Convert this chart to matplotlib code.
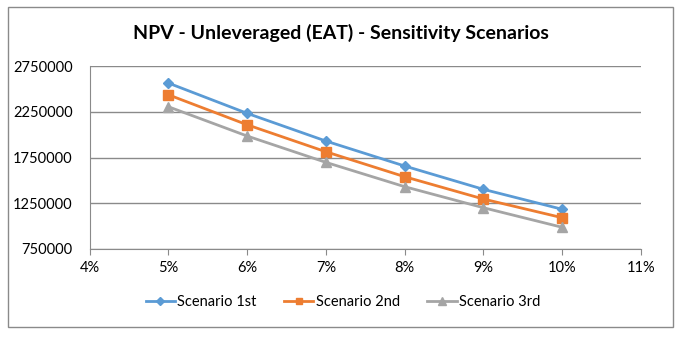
import matplotlib
matplotlib.use("Agg")
import matplotlib.pyplot as plt
from matplotlib.patches import Rectangle
from matplotlib.ticker import FuncFormatter, MultipleLocator, FixedLocator

plt.rcParams['font.family'] = ['Lato', 'DejaVu Sans']

rates = [0.05, 0.06, 0.07, 0.08, 0.09, 0.10]
scenario_1st = [2564000, 2233000, 1930000, 1657000, 1402000, 1184000]
scenario_2nd = [2436000, 2108000, 1813000, 1540000, 1296000, 1092000]
scenario_3rd = [2305000, 1985000, 1697000, 1431000, 1201000, 987000]
y_ticks = [750000, 1250000, 1750000, 2250000, 2750000]
series_names = ["Scenario 1st", "Scenario 2nd", "Scenario 3rd"]
title = "NPV - Unleveraged (EAT) - Sensitivity Scenarios"

colors = ["#5B9BD5", "#ED7D31", "#A5A5A5"]
markers = ["D", "s", "^"]
msizes = [5.5, 6.5, 7.5]
grid_col = "#8a8a8a"
text_col = "#000000"

fig = plt.figure(figsize=(6.82, 3.41), dpi=100)
fig.patch.set_facecolor("white")
# outer chart border
fig.patches.append(Rectangle((8 / 682, 1 - 327 / 341), (673 - 8) / 682, (327 - 7) / 341,
                             transform=fig.transFigure, fill=False,
                             edgecolor="#8a8a8a", linewidth=1.0))

left, right = 89.5 / 682, 641 / 682
top, bottom = 66 / 341, 249 / 341
ax = fig.add_axes([left, 1 - bottom, right - left, bottom - top])

for vals, name, c, m, ms in zip([scenario_1st, scenario_2nd, scenario_3rd],
                                series_names, colors, markers, msizes):
    ax.plot(rates, vals, color=c, marker=m, markersize=ms, linewidth=2.0,
            label=name, zorder=3)

ax.set_xlim(0.04, 0.11)
ax.set_ylim(y_ticks[0], y_ticks[-1])
ax.xaxis.set_major_locator(MultipleLocator(0.01))
ax.yaxis.set_major_locator(FixedLocator(y_ticks))
ax.xaxis.set_major_formatter(FuncFormatter(lambda v, p: f"{v * 100:.0f}%"))
ax.yaxis.set_major_formatter(FuncFormatter(lambda v, p: f"{v:.0f}"))

ax.grid(axis="y", color=grid_col, linewidth=1.0)
ax.set_axisbelow(True)
for s in ["top", "right"]:
    ax.spines[s].set_visible(False)
ax.spines["left"].set_color(grid_col)
ax.spines["bottom"].set_color(grid_col)
ax.tick_params(axis="y", length=0, pad=12, labelsize=10.5, colors=text_col)
ax.tick_params(axis="x", length=4, color=grid_col, pad=5, labelsize=10.5, colors=text_col)

fig.text(0.5, 1 - 33 / 341, title, ha="center", va="center",
         fontsize=14, fontweight="bold", color=text_col)

leg = fig.legend(loc="center", bbox_to_anchor=(0.503, 1 - 302 / 341), ncol=3, frameon=False,
                 fontsize=10.5, handlelength=2.0, columnspacing=1.9, handletextpad=0.15,
                 markerscale=0.75)

fig.savefig("out.png", dpi=100)
